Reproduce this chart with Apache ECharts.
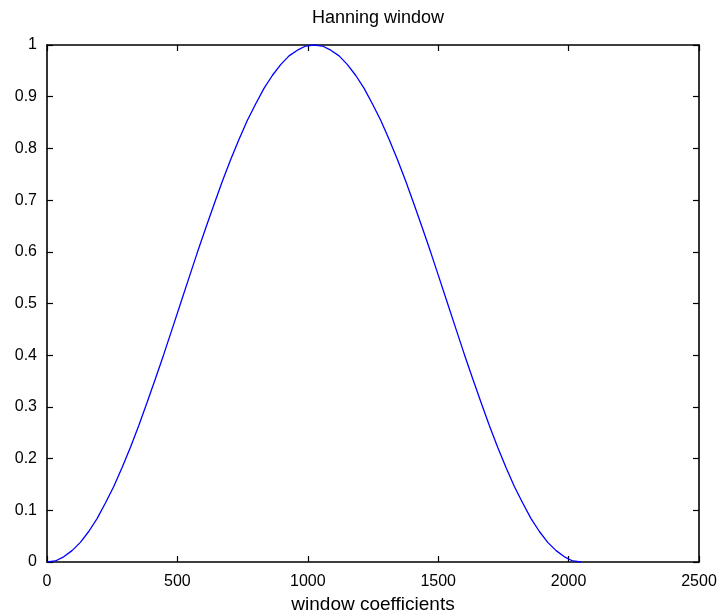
<!DOCTYPE html>
<html>
<head>
<meta charset="utf-8">
<script src="https://cdn.jsdelivr.net/npm/echarts@6/dist/echarts.min.js"></script>
<style>
html,body{margin:0;padding:0;background:#fff;}
#chart{width:720px;height:610px;}
</style>
</head>
<body>
<div id="chart"></div>
<script>
// window coefficient index (sample number)
var sampleIndex = [
  0, 32, 64, 96, 128, 160, 192, 224, 256, 288, 320, 352, 384, 416, 448, 480,
  512, 544, 576, 608, 640, 672, 704, 736, 768, 800, 832, 864, 896, 928, 960, 992,
  1024, 1056, 1088, 1120, 1152, 1184, 1216, 1248, 1280, 1312, 1344, 1376, 1408, 1440, 1472, 1504,
  1536, 1568, 1600, 1632, 1664, 1696, 1728, 1760, 1792, 1824, 1856, 1888, 1920, 1952, 1984, 2016,
  2048
];
// Hanning window values
var windowValue = [
  0.000, 0.002, 0.010, 0.022, 0.038, 0.059, 0.084, 0.114, 0.146, 0.183, 0.222, 0.264, 0.309, 0.355, 0.402, 0.451,
  0.500, 0.549, 0.598, 0.645, 0.691, 0.736, 0.778, 0.817, 0.854, 0.886, 0.916, 0.941, 0.962, 0.979, 0.990, 0.998,
  1.000, 0.998, 0.990, 0.979, 0.962, 0.941, 0.916, 0.886, 0.854, 0.817, 0.778, 0.736, 0.691, 0.645, 0.598, 0.549,
  0.500, 0.451, 0.402, 0.355, 0.309, 0.264, 0.222, 0.183, 0.146, 0.114, 0.084, 0.059, 0.038, 0.022, 0.010, 0.002,
  0.000
];
var xTicks = [0, 500, 1000, 1500, 2000, 2500];
var yTicks = [0, 0.1, 0.2, 0.3, 0.4, 0.5, 0.6, 0.7, 0.8, 0.9, 1];

var titleText = 'Hanning window';
var xAxisName = 'window coefficients';

var points = sampleIndex.map(function (n, i) { return [n, windowValue[i]]; });

var FONT = '"Liberation Sans", Arial, Helvetica, sans-serif';
var axisLineStyle = { color: '#000', width: 1.6 };
var tickStyle = { show: true, inside: true, length: 6, lineStyle: { color: '#000', width: 1.2 } };

var chart = echarts.init(document.getElementById('chart'), null, { renderer: 'canvas' });
chart.setOption({
  animation: false,
  backgroundColor: '#fff',
  title: {
    text: titleText,
    left: 373,
    textAlign: 'center',
    top: 4,
    textStyle: { fontFamily: FONT, fontSize: 18, fontWeight: 'normal', color: '#000' }
  },
  grid: { left: 47, right: 21, top: 45, bottom: 48, containLabel: false, outerBoundsMode: 'none' },
  xAxis: [{
    type: 'value',
    min: xTicks[0], max: xTicks[xTicks.length - 1], interval: 500,
    name: xAxisName,
    nameLocation: 'middle',
    nameGap: 29,
    nameTextStyle: { fontFamily: FONT, fontSize: 19, color: '#000' },
    axisLine: { show: true, onZero: false, lineStyle: axisLineStyle },
    axisTick: tickStyle,
    axisLabel: {
      margin: 12, fontFamily: FONT, fontSize: 16, color: '#000',
      formatter: function (v) { return String(v); }
    },
    splitLine: { show: false }
  }, {
    type: 'value', position: 'top',
    min: xTicks[0], max: xTicks[xTicks.length - 1], interval: 500,
    axisLine: { show: true, onZero: false, lineStyle: axisLineStyle },
    axisTick: tickStyle,
    axisLabel: { show: false },
    splitLine: { show: false }
  }],
  yAxis: [{
    type: 'value',
    min: yTicks[0], max: yTicks[yTicks.length - 1], interval: 0.1,
    axisLine: { show: true, onZero: false, lineStyle: axisLineStyle },
    axisTick: tickStyle,
    axisLabel: {
      margin: 10, fontFamily: FONT, fontSize: 16, color: '#000',
      formatter: function (v) { return String(Math.round(v * 10) / 10); }
    },
    splitLine: { show: false }
  }, {
    type: 'value', position: 'right',
    min: yTicks[0], max: yTicks[yTicks.length - 1], interval: 0.1,
    axisLine: { show: true, onZero: false, lineStyle: axisLineStyle },
    axisTick: tickStyle,
    axisLabel: { show: false },
    splitLine: { show: false }
  }],
  series: [{
    type: 'line',
    data: points,
    xAxisIndex: 0,
    yAxisIndex: 0,
    showSymbol: false,
    symbol: 'none',
    smooth: false,
    clip: false,
    lineStyle: { color: '#0000ff', width: 1.3 }
  }]
});
</script>
</body>
</html>
